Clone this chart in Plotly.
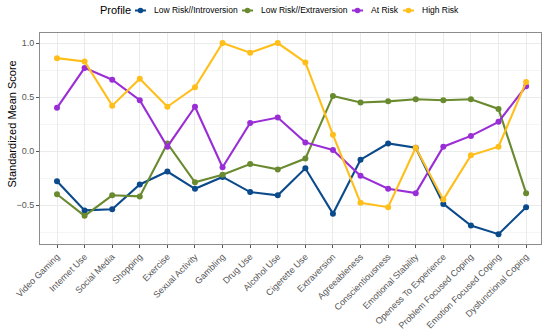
import plotly.graph_objects as go

categories = ["Video Gaming", "Internet Use", "Social Media", "Shopping", "Exercise",
              "Sexual Activity", "Gambling", "Drug Use", "Alcohol Use", "Cigerette Use",
              "Extraversion", "Agreeableness", "Conscientiousness", "Emotional Stability",
              "Openess To Experience", "Problem Focused Coping", "Emotion Focused Coping",
              "Dysfunctional Coping"]

low_intro = [-0.28, -0.55, -0.54, -0.31, -0.19, -0.35, -0.24, -0.38, -0.41, -0.16,
             -0.58, -0.08, 0.07, 0.03, -0.49, -0.69, -0.77, -0.52]
low_extra = [-0.40, -0.60, -0.41, -0.42, 0.07, -0.29, -0.22, -0.12, -0.17, -0.07,
             0.51, 0.45, 0.46, 0.48, 0.47, 0.48, 0.39, -0.39]
at_risk = [0.40, 0.77, 0.66, 0.47, 0.04, 0.41, -0.15, 0.26, 0.31, 0.08,
           0.01, -0.23, -0.35, -0.39, 0.04, 0.14, 0.27, 0.60]
high_risk = [0.86, 0.83, 0.42, 0.67, 0.41, 0.59, 1.00, 0.91, 1.00, 0.82,
             0.15, -0.48, -0.52, 0.03, -0.45, -0.04, 0.04, 0.64]

series_names = ["Low Risk//Introversion", "Low Risk//Extraversion", "At Risk", "High Risk"]
series_values = [low_intro, low_extra, at_risk, high_risk]
series_colors = ["#0B4A8B", "#6A8A2F", "#9A2ED6", "#FFBE1A"]
y_title = "Standardized Mean Score"

# figure geometry (pixels)
W, H = 550, 332
L, R, T, B = 40, 9, 33, 88
PW, PH = W - L - R, H - T - B

def px_x(px):
    return (px - L) / PW

def px_y(py):
    return (H - B - py) / PH

fig = go.Figure()
for name, vals, col in zip(series_names, series_values, series_colors):
    fig.add_trace(go.Scatter(x=categories, y=vals, name=name, mode="lines+markers",
                             line=dict(color=col, width=2.1),
                             marker=dict(color=col, size=6),
                             showlegend=False))

# manual legend, laid out like the reference
leg_y = 10.5
shapes = []
annotations = [dict(text="Profile", x=px_x(98), y=px_y(leg_y), xref="paper", yref="paper",
                    xanchor="left", yanchor="middle", showarrow=False,
                    font=dict(size=11, color="black")),
               dict(text=y_title, x=px_x(11.5), y=px_y(124), xref="paper", yref="paper",
                    xanchor="center", yanchor="middle", showarrow=False, textangle=-90,
                    font=dict(size=11, color="black"))]
key_starts = [135, 242, 352, 403]
text_starts = [152, 259, 369, 420]
for name, col, ks, ts in zip(series_names, series_colors, key_starts, text_starts):
    shapes.append(dict(type="line", xref="paper", yref="paper",
                       x0=px_x(ks), x1=px_x(ks + 11), y0=px_y(leg_y), y1=px_y(leg_y),
                       line=dict(color=col, width=2)))
    shapes.append(dict(type="circle", xref="paper", yref="paper",
                       x0=px_x(ks + 5.5 - 2.8), x1=px_x(ks + 5.5 + 2.8),
                       y0=px_y(leg_y + 2.8), y1=px_y(leg_y - 2.8),
                       fillcolor=col, line=dict(color=col, width=0)))
    annotations.append(dict(text=name, x=px_x(ts), y=px_y(leg_y), xref="paper", yref="paper",
                            xanchor="left", yanchor="middle", showarrow=False,
                            font=dict(size=8.5, color="black")))

fig.update_layout(
    width=W, height=H,
    margin=dict(l=L, r=R, t=T, b=B, autoexpand=False),
    paper_bgcolor="white", plot_bgcolor="white",
    font=dict(family="Liberation Sans, Arial, sans-serif", color="#555555"),
    showlegend=False,
    shapes=shapes, annotations=annotations,
)
fig.update_xaxes(
    type="category", range=[-0.616, 17.54],
    showgrid=True, gridcolor="#ebebeb", gridwidth=1,
    showline=True, linecolor="#8c8c8c", linewidth=1, mirror=True,
    ticks="outside", ticklen=3, tickcolor="#555555",
    tickangle=-45, tickfont=dict(size=9, color="#555555"),
)
fig.update_yaxes(
    range=[-0.861, 1.093], tickvals=[-0.5, 0.0, 0.5, 1.0], tickformat=".1f",
    showgrid=True, gridcolor="#ebebeb", gridwidth=1,
    minor=dict(tickvals=[-0.75, -0.25, 0.25, 0.75], showgrid=True, gridcolor="#f5f5f5", ticks=""),
    zeroline=False,
    showline=True, linecolor="#8c8c8c", linewidth=1, mirror=True,
    ticks="outside", ticklen=3, tickcolor="#555555",
    tickfont=dict(size=9, color="#555555"),
)

fig.write_html("out.html", config={"displayModeBar": False},
               post_script="document.body.style.margin='0';")
